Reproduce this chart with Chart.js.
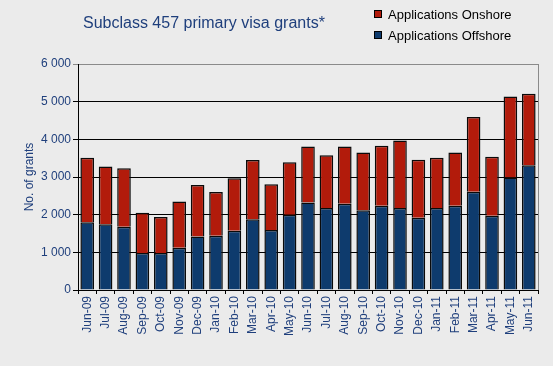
<!DOCTYPE html>
<html>
<head>
<meta charset="utf-8">
<script src="https://cdn.jsdelivr.net/npm/chart.js@4.4.0/dist/chart.umd.min.js"></script>
<style>
  html, body { margin: 0; padding: 0; background: #ebebeb; }
  #wrap { width: 553px; height: 366px; position: relative; }
</style>
</head>
<body>
<div id="wrap"><canvas id="chart"></canvas></div>
<script>
const months = ['Jun-09', 'Jul-09', 'Aug-09', 'Sep-09', 'Oct-09', 'Nov-09', 'Dec-09', 'Jan-10', 'Feb-10',
    'Mar-10', 'Apr-10', 'May-10', 'Jun-10', 'Jul-10', 'Aug-10', 'Sep-10', 'Oct-10', 'Nov-10', 'Dec-10',
    'Jan-11', 'Feb-11', 'Mar-11', 'Apr-11', 'May-11', 'Jun-11'];

// offshore is the bottom of the stack, onshore sits on top
const offshore = [1800, 1745, 1680, 980, 980, 1120, 1420, 1440, 1570, 1880, 1590, 2000, 2320,
    2180, 2290, 2120, 2240, 2180, 1920, 2180, 2240, 2610, 1970, 2990, 3310];
const onshore = [1710, 1535, 1550, 1070, 960, 1230, 1370, 1160, 1400, 1570, 1220, 1390, 1490,
    1400, 1520, 1530, 1590, 1790, 1540, 1330, 1410, 1980, 1570, 2150, 1900];

const yTicks = [0, 1000, 2000, 3000, 4000, 5000, 6000];

const BLUE_TEXT = '#1f3f7c';
const FONT = '"Liberation Sans", Arial, sans-serif';

const bgPlugin = {
    id: 'bg',
    beforeDraw(chart) {
        const ctx = chart.ctx;
        ctx.save();
        ctx.fillStyle = '#ebebeb';
        ctx.fillRect(0, 0, chart.width, chart.height);
        ctx.restore();
    },
    afterDraw(chart) {
        const ctx = chart.ctx;
        const a = chart.chartArea;
        ctx.save();
        // right border of the plot
        ctx.strokeStyle = '#8a8a8a';
        ctx.lineWidth = 1;
        ctx.beginPath();
        ctx.moveTo(a.right + 0.5, a.top);
        ctx.lineTo(a.right + 0.5, a.bottom);
        ctx.stroke();

        // title
        ctx.fillStyle = BLUE_TEXT;
        ctx.font = '16px ' + FONT;
        ctx.textBaseline = 'middle';
        ctx.textAlign = 'left';
        ctx.fillText('Subclass 457 primary visa grants*', 83, 24);

        // legend, top right
        const items = [chart.data.datasets[1], chart.data.datasets[0]];
        ctx.font = '13px ' + FONT;
        items.forEach((ds, i) => {
            const y = 14 + i * 21;
            ctx.fillStyle = ds.backgroundColor;
            ctx.fillRect(374, y - 4, 8, 8);
            ctx.strokeStyle = '#000';
            ctx.strokeRect(374.5, y - 3.5, 7, 7);
            ctx.fillStyle = '#000';
            ctx.fillText(ds.label, 388, y + 1);
        });
        ctx.restore();
    }
};

new Chart(document.getElementById('chart'), {
    type: 'bar',
    data: {
        labels: months,
        datasets: [{
            label: 'Applications Offshore',
            data: offshore,
            backgroundColor: '#0e3b6d',
            borderColor: '#0a0a0a',
            borderWidth: 1.5,
            barPercentage: 0.74,
            categoryPercentage: 1
        }, {
            label: 'Applications Onshore',
            data: onshore,
            backgroundColor: '#b21b0b',
            borderColor: '#0a0a0a',
            borderWidth: 1.5,
            barPercentage: 0.74,
            categoryPercentage: 1
        }]
    },
    options: {
        responsive: true,
        maintainAspectRatio: false,
        animation: false,
        layout: { padding: { left: 22, right: 15, top: 64, bottom: 0 } },
        plugins: {
            legend: { display: false },
            title: { display: false },
            tooltip: { enabled: false }
        },
        scales: {
            x: {
                stacked: true,
                grid: { display: true, drawOnChartArea: false, drawTicks: true, tickLength: 4, color: '#000', offset: true },
                border: { color: '#000' },
                ticks: {
                    color: BLUE_TEXT,
                    font: { family: FONT, size: 12 },
                    minRotation: 90,
                    maxRotation: 90,
                    autoSkip: false,
                    padding: 2
                },
                afterFit(scale) { scale.height = 76; }
            },
            y: {
                stacked: true,
                min: 0,
                max: 6000,
                afterBuildTicks(scale) { scale.ticks = yTicks.map(v => ({ value: v })); },
                grid: {
                    color: ctx => ctx.tick && ctx.tick.value === 6000 ? '#8a8a8a' : '#000',
                    tickLength: 5
                },
                border: { color: '#000' },
                ticks: {
                    color: BLUE_TEXT,
                    font: { family: FONT, size: 12 },
                    padding: 2,
                    callback: v => v >= 1000 ? Math.floor(v / 1000) + ' ' + String(v % 1000).padStart(3, '0') : String(v)
                },
                title: {
                    display: true,
                    text: 'No. of grants',
                    color: BLUE_TEXT,
                    font: { family: FONT, size: 12 },
                    padding: 0
                },
                afterFit(scale) { scale.width = 56; }
            }
        }
    },
    plugins: [bgPlugin]
});
</script>
</body>
</html>
